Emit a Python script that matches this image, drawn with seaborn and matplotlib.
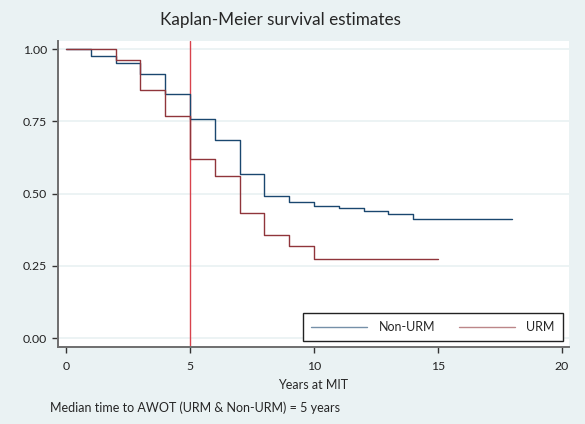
import pandas as pd
import matplotlib
matplotlib.use("Agg")
import matplotlib.pyplot as plt
import seaborn as sns

# Kaplan-Meier step values
nonurm_time = [0, 1, 2, 3, 4, 5, 6, 7, 8, 9, 10, 11, 12, 13, 14, 18]
nonurm_surv = [1.0, 0.977, 0.953, 0.913, 0.846, 0.759, 0.685, 0.568, 0.49,
               0.472, 0.456, 0.449, 0.439, 0.428, 0.411, 0.411]
urm_time = [0, 2, 3, 4, 5, 6, 7, 8, 9, 10, 15]
urm_surv = [1.0, 0.962, 0.86, 0.767, 0.619, 0.56, 0.432, 0.358, 0.319, 0.273, 0.273]
groups = ["Non-URM", "URM"]
median_time = 5
x_ticks = [0, 5, 10, 15, 20]
y_ticks = [0.0, 0.25, 0.5, 0.75, 1.0]

bg = "#EAF2F3"
sns.set_style("white")
plt.rcParams["font.family"] = ["Lato", "DejaVu Sans"]

df = pd.concat([
    pd.DataFrame({"time": nonurm_time, "surv": nonurm_surv, "group": groups[0]}),
    pd.DataFrame({"time": urm_time, "surv": urm_surv, "group": groups[1]}),
])

fig = plt.figure(figsize=(5.85, 4.24), dpi=100, facecolor=bg)
ax = fig.add_axes([58 / 585, (424 - 347) / 424, (569 - 58) / 585, (347 - 41) / 424])
ax.set_facecolor("white")

for y in y_ticks:
    ax.axhline(y, color=bg, lw=1.3, zorder=0)

sns.lineplot(data=df, x="time", y="surv", hue="group", hue_order=groups,
             palette=["#1A476F", "#90353B"], drawstyle="steps-post",
             lw=1.0, ax=ax, legend=True)
ax.axvline(median_time, color="#D8434D", lw=1.0, zorder=1)

ax.set_xlim(-0.32, 20.28)
ax.set_ylim(-0.031, 1.028)
ax.set_xticks(x_ticks)
ax.set_yticks(y_ticks)
ax.set_yticklabels([f"{v:.2f}" for v in y_ticks])
ax.tick_params(axis="both", direction="out", length=4, width=1, color="#333333",
               labelsize=8.8, labelcolor="#222222", left=True, bottom=True)
ax.tick_params(axis="y", pad=4)
ax.tick_params(axis="x", pad=6)
for s in ["top", "right"]:
    ax.spines[s].set_visible(False)
for s in ["left", "bottom"]:
    ax.spines[s].set_color("#6E6E6E")
    ax.spines[s].set_linewidth(1.4)

ax.set_xlabel("Years at MIT", fontsize=9, labelpad=5)
ax.set_ylabel("")

handles, labels = ax.get_legend_handles_labels()
for h in handles:
    h.set_alpha(0.6)
leg = ax.legend(handles, labels, loc="lower left", ncol=2, mode="expand",
                bbox_to_anchor=(0.479, 0.0196, 0.509, 0.088),
                fontsize=9, handlelength=4.5, handletextpad=0.9,
                columnspacing=2.0, frameon=True, fancybox=False,
                borderpad=0.65, borderaxespad=0)
leg.get_frame().set_edgecolor("#222222")
leg.get_frame().set_linewidth(1.0)
leg.get_frame().set_alpha(1)

fig.text(280 / 585, 1 - 20 / 424, "Kaplan-Meier survival estimates",
         ha="center", va="center", fontsize=12.3)
fig.text(50 / 585, 1 - 408 / 424, "Median time to AWOT (URM & Non-URM) = 5 years",
         ha="left", va="center", fontsize=9)

fig.savefig("out.png", dpi=100, facecolor=bg)
